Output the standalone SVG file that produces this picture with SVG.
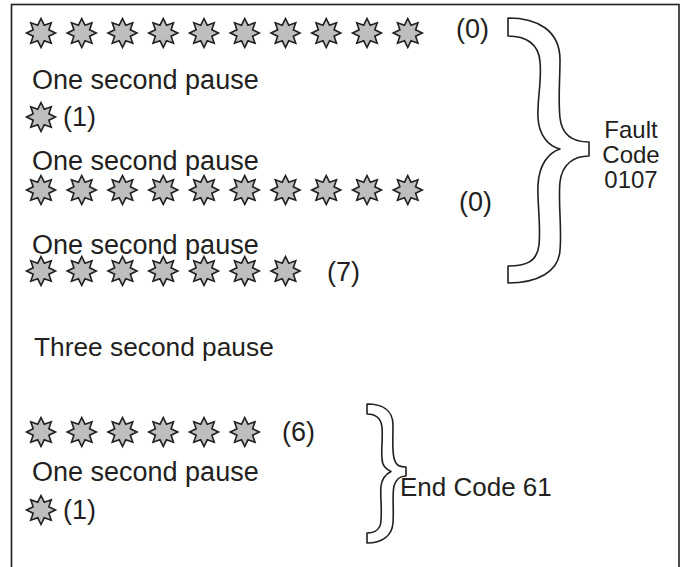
<svg xmlns="http://www.w3.org/2000/svg" xmlns:xlink="http://www.w3.org/1999/xlink" width="682" height="567" viewBox="0 0 682 567">
<style>
text{font-family:"Liberation Sans",Arial,Helvetica,sans-serif;font-size:27px;fill:#231f20}
.lbl{font-size:24px}
.star{fill:#bcbec0;stroke:#231f20;stroke-width:1.6;stroke-linejoin:miter}
.brace{fill:#fff;stroke:#231f20;stroke-width:1.6;stroke-linejoin:round}
.frame{fill:none;stroke:#231f20;stroke-width:1.6}
</style>
<defs>
<polygon id="s" class="star" points="0,-14.5 3.25,-7.85 10.25,-10.25 7.85,-3.25 14.5,0 7.85,3.25 10.25,10.25 3.25,7.85 0,14.5 -3.25,7.85 -10.25,10.25 -7.85,3.25 -14.5,0 -7.85,-3.25 -10.25,-10.25 -3.25,-7.85"/>
</defs>
<rect class="frame" x="11.5" y="4.5" width="667.5" height="580"/>

<g id="row1">
<use xlink:href="#s" x="41" y="33"/><use xlink:href="#s" x="81.75" y="33"/><use xlink:href="#s" x="122.5" y="33"/><use xlink:href="#s" x="163.25" y="33"/><use xlink:href="#s" x="204" y="33"/><use xlink:href="#s" x="244.75" y="33"/><use xlink:href="#s" x="285.5" y="33"/><use xlink:href="#s" x="326.25" y="33"/><use xlink:href="#s" x="367" y="33"/><use xlink:href="#s" x="407.75" y="33"/>
<text x="456" y="38">(0)</text>
</g>
<g id="pause1"><text x="32" y="89">One second pause</text></g>
<g id="row2">
<use xlink:href="#s" x="41" y="117"/>
<text x="63" y="126">(1)</text>
</g>
<g id="pause2"><text x="32" y="170">One second pause</text></g>
<g id="row3">
<use xlink:href="#s" x="41" y="190"/><use xlink:href="#s" x="81.75" y="190"/><use xlink:href="#s" x="122.5" y="190"/><use xlink:href="#s" x="163.25" y="190"/><use xlink:href="#s" x="204" y="190"/><use xlink:href="#s" x="244.75" y="190"/><use xlink:href="#s" x="285.5" y="190"/><use xlink:href="#s" x="326.25" y="190"/><use xlink:href="#s" x="367" y="190"/><use xlink:href="#s" x="407.75" y="190"/>
<text x="459" y="211">(0)</text>
</g>
<g id="pause3"><text x="32" y="254">One second pause</text></g>
<g id="row4">
<use xlink:href="#s" x="41" y="271"/><use xlink:href="#s" x="81.75" y="271"/><use xlink:href="#s" x="122.5" y="271"/><use xlink:href="#s" x="163.25" y="271"/><use xlink:href="#s" x="204" y="271"/><use xlink:href="#s" x="244.75" y="271"/><use xlink:href="#s" x="285.5" y="271"/>
<text x="327" y="281">(7)</text>
</g>
<g id="pause-long"><text x="34" y="356" style="font-size:26.3px">Three second pause</text></g>
<g id="row5">
<use xlink:href="#s" x="41" y="432"/><use xlink:href="#s" x="81.75" y="432"/><use xlink:href="#s" x="122.5" y="432"/><use xlink:href="#s" x="163.25" y="432"/><use xlink:href="#s" x="204" y="432"/><use xlink:href="#s" x="244.75" y="432"/>
<text x="282" y="441">(6)</text>
</g>
<g id="pause4"><text x="32" y="481">One second pause</text></g>
<g id="row6">
<use xlink:href="#s" x="41" y="510"/>
<text x="63" y="519">(1)</text>
</g>

<g id="fault-brace">
<path class="brace" d="M508,18 C537,18 560,30 560,60 C560,80 558,100 560,118 C562,136 574,142 589,142 L589,156 C574,156 562,164 560,182 C558,200 562,230 560,250 C559,272 537,283 508,283 L508,266 C526,266 537,262 539,245 C541,225 537,200 538,185 C539,165 548,153 560,149 C548,146 539,135 538,118 C537,100 542,80 540,62 C539,44 526,36 508,36 Z"/>
<text class="lbl" x="631" y="138" text-anchor="middle">Fault</text>
<text class="lbl" x="631" y="163" text-anchor="middle">Code</text>
<text class="lbl" x="631" y="188" text-anchor="middle">0107</text>
</g>
<g id="end-brace">
<path class="brace" d="M367,404 C382,404 393,410 393,425 C393,440 392,450 394,458 C396,466 400,467 406,467 L406,476 C400,476 396,479 394,486 C392,495 394,510 393,523 C392,536 382,543 367,543 L367,533 C376,533 381,528 381,520 C382,505 380,495 381,486 C382,479 386,474 391,471.5 C386,469 382,466 382,458 C381,450 383,438 382,427 C381,419 376,414 367,414 Z"/>
<text x="400" y="496" style="font-size:26px">End Code 61</text>
</g>
</svg>
